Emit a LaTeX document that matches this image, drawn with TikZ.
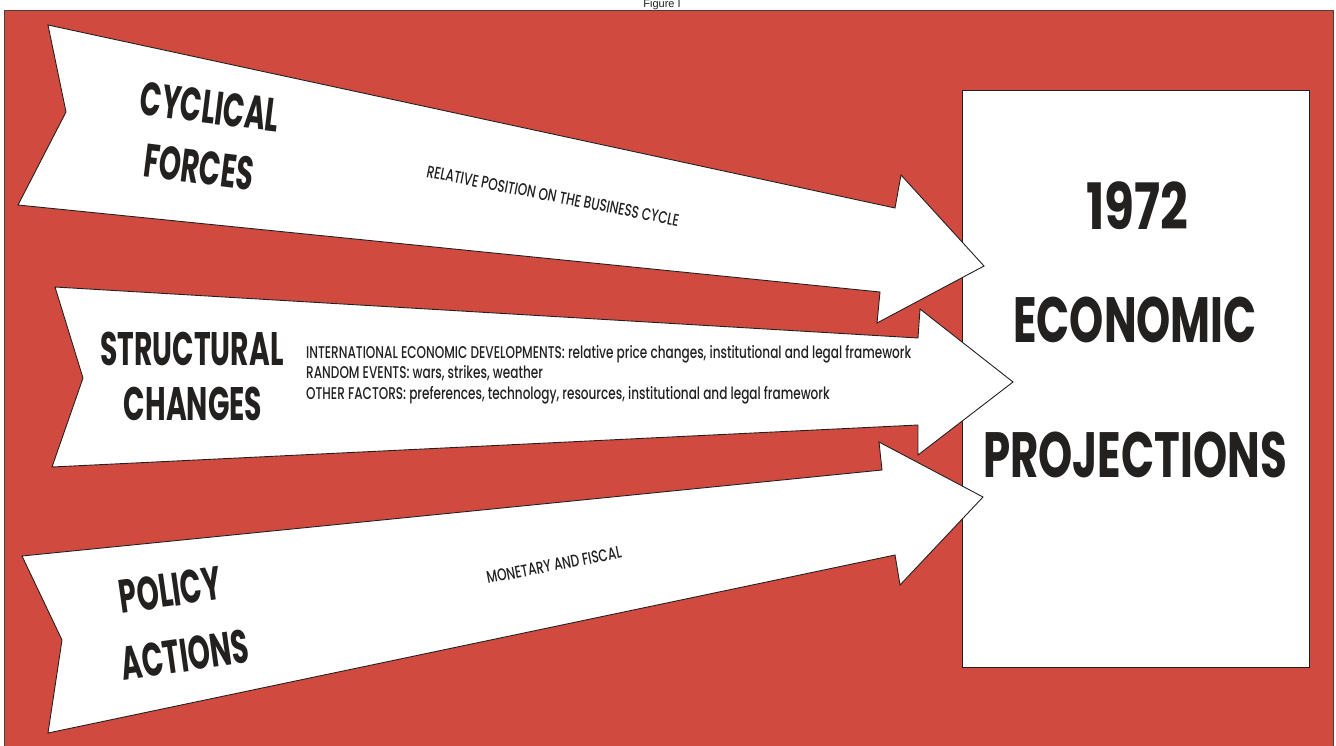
\documentclass[tikz,border=0pt]{standalone}
\usepackage{fontspec}
\setmainfont{Poppins}
\newfontfamily\headfont{Poppins}[FakeStretch=0.6]
\newfontfamily\boxfont{Poppins}[FakeStretch=0.68]
\newfontfamily\yearfont{Poppins}[FakeStretch=0.76]
\newfontfamily\smallfont{Poppins Medium}[FakeStretch=0.71]
\newfontfamily\capfont{Liberation Sans}
\definecolor{bgred}{RGB}{208,74,64}
\definecolor{ink}{RGB}{35,32,32}
\tikzset{
  arrowshape/.style={fill=white, draw=ink, line width=0.9pt, line join=miter},
  headtext/.style={font=\headfont\bfseries\fontsize{47}{50}\selectfont, text=ink, inner sep=0pt},
  boxtext/.style={font=\boxfont\bfseries\fontsize{64}{66}\selectfont, text=ink, inner sep=0pt},
  yeartext/.style={font=\yearfont\bfseries\fontsize{64}{66}\selectfont, text=ink, inner sep=0pt},
  smalltext/.style={font=\smallfont\fontsize{17}{20.5}\selectfont, text=ink, inner sep=0pt},
}
\begin{document}
\begin{tikzpicture}[x=1pt,y=-1pt]
\useasboundingbox (0,0) rectangle (1336,745);
\fill[white] (0,0) rectangle (1336,745);
\node[font=\capfont\fontsize{11}{13}\selectfont, text=ink, anchor=base] (figlabel) at (662,7) {Figure I};
\draw[fill=bgred, draw=ink!85, line width=1pt] (4,10) rectangle (1333,765);
% result box
\draw[fill=white, draw=ink, line width=1pt] (962,90) rectangle (1309,667);
% arrows
\draw[arrowshape] (48,25) -- (895,208) -- (901,175) -- (984,266) -- (877,323) -- (880,292) -- (18,205) -- (66,112) -- cycle;
\draw[arrowshape] (55,287) -- (918,338) -- (920,309) -- (1013,382) -- (918,455) -- (918,425) -- (52,467) -- (83,378) -- cycle;
\draw[arrowshape] (22,556) -- (882,470) -- (879,442) -- (983,497) -- (900,585) -- (895,555) -- (48,733) -- (62,640) -- cycle;
% texts
\node[headtext, rotate=-7] (cyc) at (210,107) {CYCLICAL};
\node[headtext, rotate=-7] (forces) at (199,167) {FORCES};
\node[smalltext, rotate=-11] (relpos) at (553,196) {RELATIVE POSITION ON THE BUSINESS CYCLE};
\node[headtext] (struct) at (192,349) {STRUCTURAL};
\node[headtext] (changes) at (193,404) {CHANGES};
\node[smalltext, anchor=north west, align=left] (factors) at (306,345) {INTERNATIONAL ECONOMIC DEVELOPMENTS: relative price changes, institutional and legal framework\\RANDOM EVENTS: wars, strikes, weather\\OTHER FACTORS: preferences, technology, resources, institutional and legal framework};
\node[headtext, rotate=8] (policy) at (170,590) {POLICY};
\node[headtext, rotate=8] (actions) at (185,655) {ACTIONS};
\node[smalltext, rotate=11] (monfis) at (554,565) {MONETARY AND FISCAL};
\node[yeartext] (year) at (1137,206) {1972};
\node[boxtext] (econ) at (1135,320) {ECONOMIC};
\node[boxtext] (proj) at (1135,455) {PROJECTIONS};
\end{tikzpicture}
\end{document}
